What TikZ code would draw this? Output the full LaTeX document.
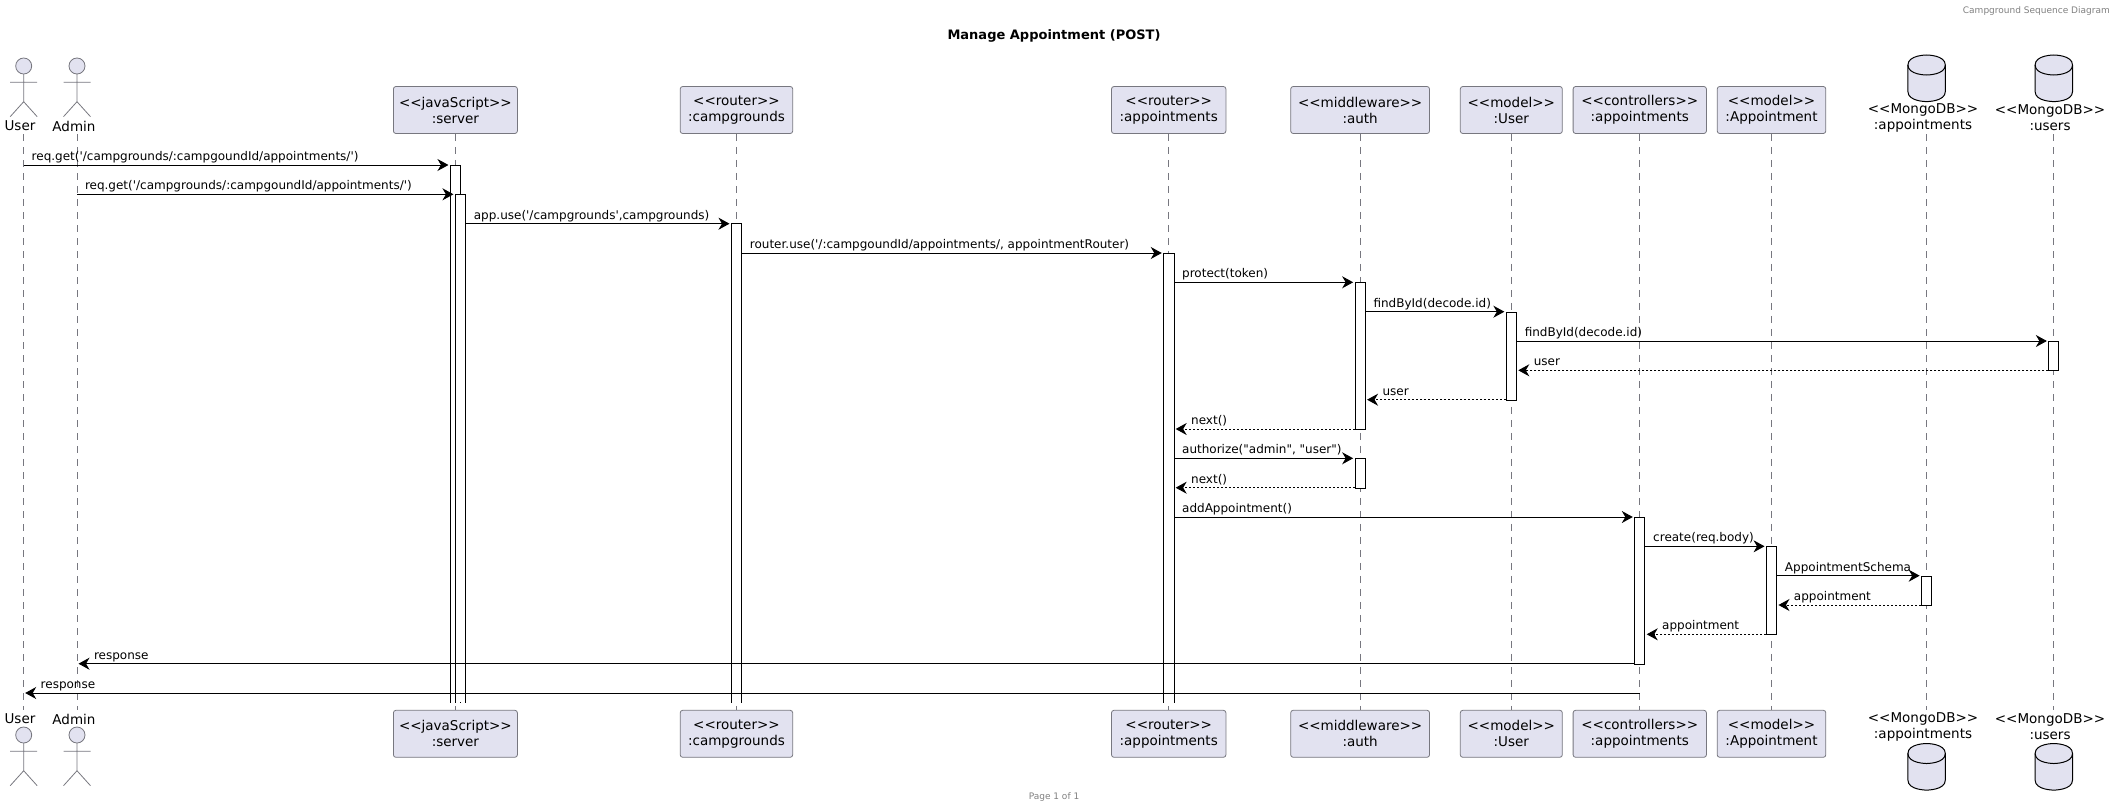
\documentclass[tikz,border=0pt]{standalone}
\usepackage{fontspec}
\setmainfont{DejaVu Sans}[Ligatures=TeXOff]
\usepackage{xcolor}
\usetikzlibrary{arrows.meta, positioning, backgrounds}
\definecolor{boxfill}{HTML}{E2E2F0}
\definecolor{boxline}{HTML}{77777F}

\begin{document}
\begin{tikzpicture}[
    x=1pt, y=-1pt,
    pbox/.style={rectangle, draw=boxline, fill=boxfill, line width=0.8pt, rounded corners=2.5pt, minimum height=47pt, inner sep=0pt, align=center, font=\fontsize{13.5}{16}\selectfont},
    pname/.style={inner sep=0pt, align=center, font=\fontsize{13.5}{16}\selectfont},
    bar/.style={rectangle, draw=black, fill=white, line width=0.9pt, minimum width=10pt, inner sep=0pt, anchor=north},
    openbar/.style={bar, draw=none},
    barline/.style={draw=black, line width=0.9pt},
    life/.style={draw=boxline, line width=0.7pt, dash pattern=on 7pt off 6pt},
    msg/.style={-{Stealth[length=11pt, width=12pt, inset=3.5pt]}, black, line width=1pt, shorten >=1.5pt},
    ret/.style={msg, dash pattern=on 2pt off 2pt},
    txtr/.style={pos=0, anchor=base west, inner sep=0pt, xshift=7.5pt, yshift=4.5pt, font=\fontsize{12}{14}\selectfont},
    txtl/.style={pos=1, anchor=base west, inner sep=0pt, xshift=16.5pt, yshift=4.5pt, font=\fontsize{12}{14}\selectfont},
    actor/.pic={
        \draw[boxline, fill=boxfill, line width=0.8pt] (0,0) circle (8);
        \draw[boxline, line width=0.8pt] (0,8) -- (0,35.7) (-13.5,16.3) -- (13.5,16.3) (-13.5,50.7) -- (0,35.7) -- (13.5,50.7);
    },
    dbase/.pic={
        \draw[black, fill=boxfill, line width=1pt] (-18.7,10) .. controls (-18.7,0) and (0,0) .. (0,0) .. controls (0,0) and (18.7,0) .. (18.7,10) -- (18.7,36.6) .. controls (18.7,46.6) and (0,46.6) .. (0,46.6) .. controls (0,46.6) and (-18.7,46.6) .. (-18.7,36.6) -- cycle;
        \draw[black, line width=1pt] (-18.7,10) .. controls (-18.7,20) and (0,20) .. (0,20) .. controls (0,20) and (18.7,20) .. (18.7,10);
    }
]
\useasboundingbox (0,0) rectangle (2116,808);

% Title, header, footer
\node[font=\bfseries\fontsize{13}{16}\selectfont] (title) at (1054,36) {Manage Appointment (POST)};
\node[anchor=east, inner sep=0pt, text=gray, font=\fontsize{9}{11}\selectfont] (header) at (2110,11) {Campground Sequence Diagram};
\node[text=gray, inner sep=0pt, font=\fontsize{9}{11}\selectfont] (footer) at (1054,797) {Page 1 of 1};

% Participants (top row)
\node[pbox, minimum width=124pt] (srvT) at (455.4,110) {<<javaScript>>\\:server};
\node[pbox, minimum width=112.5pt, right=162pt of srvT] (campT) {<<router>>\\:campgrounds};
\node[pbox, minimum width=114.4pt, right=318pt of campT] (rtrT) {<<router>>\\:appointments};
\node[pbox, minimum width=138.8pt, right=64pt of rtrT] (authT) {<<middleware>>\\:auth};
\node[pbox, minimum width=102pt, right=30pt of authT] (usrT) {<<model>>\\:User};
\node[pbox, minimum width=133.3pt, right=10pt of usrT] (ctrlT) {<<controllers>>\\:appointments};
\node[pbox, minimum width=108.6pt, right=10pt of ctrlT] (apptT) {<<model>>\\:Appointment};

% Participants (bottom row)
\node[pbox, minimum width=124pt, below=576pt of srvT] (srvB) {<<javaScript>>\\:server};
\node[pbox, minimum width=112.5pt, below=576pt of campT] (campB) {<<router>>\\:campgrounds};
\node[pbox, minimum width=114.4pt, below=576pt of rtrT] (rtrB) {<<router>>\\:appointments};
\node[pbox, minimum width=138.8pt, below=576pt of authT] (authB) {<<middleware>>\\:auth};
\node[pbox, minimum width=102pt, below=576pt of usrT] (usrB) {<<model>>\\:User};
\node[pbox, minimum width=133.3pt, below=576pt of ctrlT] (ctrlB) {<<controllers>>\\:appointments};
\node[pbox, minimum width=108.6pt, below=576pt of apptT] (apptB) {<<model>>\\:Appointment};

% Actors
\pic at (23.7,66) {actor};
\pic at (77,66) {actor};
\pic at (23.7,735) {actor};
\pic at (77,735) {actor};
\node[pname] (userT) at (20,126) {User};
\node[pname] (adminT) at (74,126) {Admin};
\node[pname] (userB) at (20,719) {User};
\node[pname] (adminB) at (74,719) {Admin};
\coordinate (userTop) at (23.7,134);
\coordinate (userBot) at (23.7,710);
\coordinate (adminTop) at (77,134);
\coordinate (adminBot) at (77,710);

% Databases
\pic at (1926.6,55) {dbase};
\pic at (2053.8,55) {dbase};
\pic at (1926.6,743.5) {dbase};
\pic at (2053.8,743.5) {dbase};
\node[pname] (dbaT) at (1923,118) {<<MongoDB>>\\:appointments};
\node[pname] (dbuT) at (2050,118) {<<MongoDB>>\\:users};
\node[pname] (dbaB) at (1923,727) {<<MongoDB>>\\:appointments};
\node[pname] (dbuB) at (2050,727) {<<MongoDB>>\\:users};
\coordinate (dbaTop) at (1926.6,134);
\coordinate (dbaBot) at (1926.6,710);
\coordinate (dbuTop) at (2053.8,134);
\coordinate (dbuBot) at (2053.8,710);

% Message levels
\coordinate (m1) at (0,165);
\coordinate (m2) at (0,194.3);
\coordinate (m3) at (0,223.7);
\coordinate (m4) at (0,253);
\coordinate (m5) at (0,282.3);
\coordinate (m6) at (0,311.7);
\coordinate (m7) at (0,341);
\coordinate (m8) at (0,370.3);
\coordinate (m9) at (0,399.7);
\coordinate (m10) at (0,429);
\coordinate (m11) at (0,458.3);
\coordinate (m12) at (0,487.7);
\coordinate (m13) at (0,517);
\coordinate (m14) at (0,546.3);
\coordinate (m15) at (0,575.7);
\coordinate (m16) at (0,605);
\coordinate (m17) at (0,634.3);
\coordinate (m18) at (0,663.7);
\coordinate (m19) at (0,693);

% Activation bars
\node[openbar, minimum height=537pt] (srvA1) at (srvT.south |- m1) {};
\draw[barline] (srvA1.south west) -- (srvA1.north west) -- (srvA1.north east) -- (srvA1.south east);
\node[openbar, minimum height=507.7pt, xshift=5pt] (srvA2) at (srvT.south |- m2) {};
\draw[barline] (srvA2.south west) -- (srvA2.north west) -- (srvA2.north east) -- (srvA2.south east);
\node[openbar, minimum height=478.3pt] (campA) at (campT.south |- m3) {};
\draw[barline] (campA.south west) -- (campA.north west) -- (campA.north east) -- (campA.south east);
\node[openbar, minimum height=449pt] (rtrA) at (rtrT.south |- m4) {};
\draw[barline] (rtrA.south west) -- (rtrA.north west) -- (rtrA.north east) -- (rtrA.south east);
\node[bar, minimum height=146.7pt] (authA1) at (authT.south |- m5) {};
\node[bar, minimum height=88pt] (usrA) at (usrT.south |- m6) {};
\node[bar, minimum height=29.3pt] (dbuA) at (dbuTop |- m7) {};
\node[bar, minimum height=29.4pt] (authA2) at (authT.south |- m11) {};
\node[bar, minimum height=146.7pt] (ctrlA) at (ctrlT.south |- m13) {};
\node[bar, minimum height=88pt] (apptA) at (apptT.south |- m14) {};
\node[bar, minimum height=29.3pt] (dbaA) at (dbaTop |- m15) {};

% Messages
\draw[msg] (userTop |- m1) -- node[txtr] (t1) {req.get('/campgrounds/:campgoundId/appointments/')} (srvA1.west |- m1);
\draw[msg] (adminTop |- m2) -- node[txtr] (t2) {req.get('/campgrounds/:campgoundId/appointments/')} (srvA2.west |- m2);
\draw[msg] (srvA2.east |- m3) -- node[txtr] (t3) {app.use('/campgrounds',campgrounds)} (campA.west |- m3);
\draw[msg] (campA.east |- m4) -- node[txtr] (t4) {router.use('/:campgoundId/appointments/, appointmentRouter)} (rtrA.west |- m4);
\draw[msg] (rtrA.east |- m5) -- node[txtr] (t5) {protect(token)} (authA1.west |- m5);
\draw[msg] (authA1.east |- m6) -- node[txtr] (t6) {findById(decode.id)} (usrA.west |- m6);
\draw[msg] (usrA.east |- m7) -- node[txtr] (t7) {findById(decode.id)} (dbuA.west |- m7);
\draw[ret] (dbuA.west |- m8) -- node[txtl] (t8) {user} (usrA.east |- m8);
\draw[ret] (usrA.west |- m9) -- node[txtl] (t9) {user} (authA1.east |- m9);
\draw[ret] (authA1.west |- m10) -- node[txtl] (t10) {next()} (rtrA.east |- m10);
\draw[msg] (rtrA.east |- m11) -- node[txtr] (t11) {authorize("admin", "user")} (authA2.west |- m11);
\draw[ret] (authA2.west |- m12) -- node[txtl] (t12) {next()} (rtrA.east |- m12);
\draw[msg] (rtrA.east |- m13) -- node[txtr] (t13) {addAppointment()} (ctrlA.west |- m13);
\draw[msg] (ctrlA.east |- m14) -- node[txtr] (t14) {create(req.body)} (apptA.west |- m14);
\draw[msg] (apptA.east |- m15) -- node[txtr] (t15) {AppointmentSchema} (dbaA.west |- m15);
\draw[ret] (dbaA.west |- m16) -- node[txtl] (t16) {appointment} (apptA.east |- m16);
\draw[ret] (apptA.west |- m17) -- node[txtl] (t17) {appointment} (ctrlA.east |- m17);
\draw[msg] (ctrlA.west |- m18) -- node[txtl] (t18) {response} (adminTop |- m18);
\draw[msg] (ctrlT.south |- m19) -- node[txtl] (t19) {response} (userTop |- m19);

% Lifelines
\begin{scope}[on background layer]
    \draw[life] (userTop) -- (userBot);
    \draw[life] (adminTop) -- (adminBot);
    \draw[life] (srvT) -- (srvB);
    \draw[life] (campT) -- (campB);
    \draw[life] (rtrT) -- (rtrB);
    \draw[life] (authT) -- (authB);
    \draw[life] (usrT) -- (usrB);
    \draw[life] (ctrlT) -- (ctrlB);
    \draw[life] (apptT) -- (apptB);
    \draw[life] (dbaTop) -- (dbaBot);
    \draw[life] (dbuTop) -- (dbuBot);
\end{scope}

\end{tikzpicture}
\end{document}
